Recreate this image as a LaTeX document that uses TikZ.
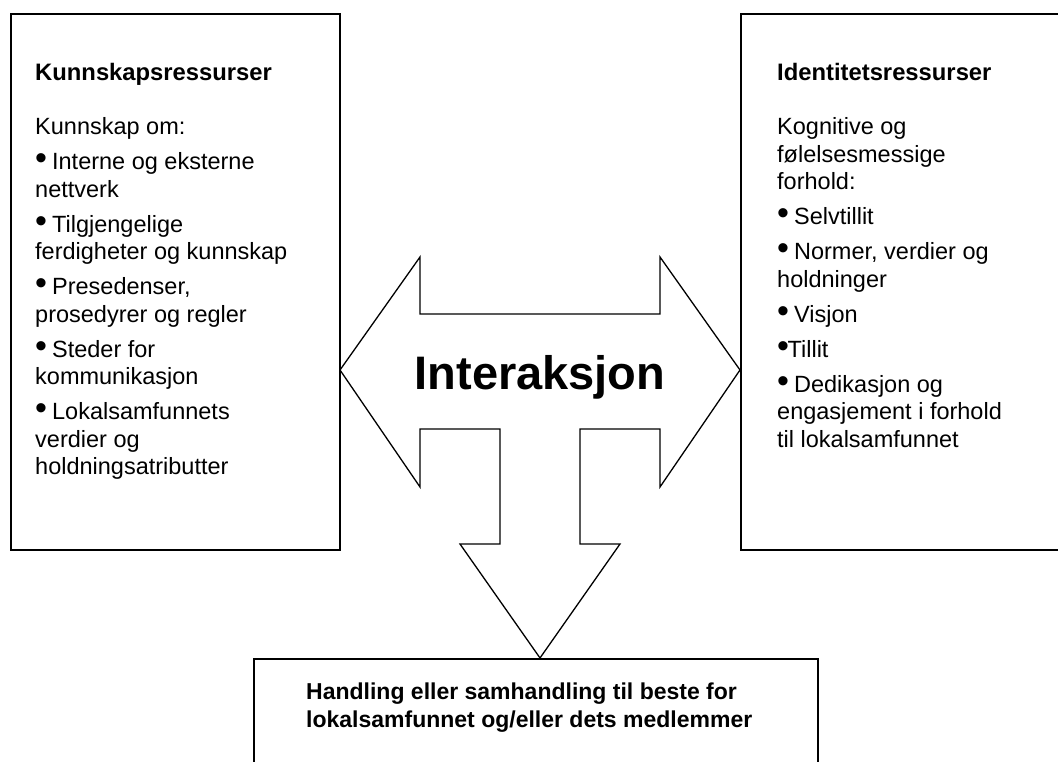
\documentclass[tikz,border=0pt]{standalone}
\usepackage{fontspec}
\setmainfont{Liberation Sans}
\newcommand{\blt}{{\fontsize{34}{34}\selectfont\textbullet}\kern-1.5pt}
\newcommand{\ttl}[1]{{\fontsize{23.8}{27.5}\selectfont\bfseries #1}}

\begin{document}
\begin{tikzpicture}[x=1pt,y=-1pt,
  box/.style={draw,line width=1.8pt,inner sep=0pt,anchor=north west},
  boxtext/.style={anchor=north west,align=left,inner sep=0pt,font=\fontsize{23.5}{27.5}\selectfont},
  hd/.style={font=\fontsize{23}{27.5}\selectfont\bfseries}]
  \clip (0,0) rectangle (1058,762);
  \node[box,minimum width=329,minimum height=536] (kunn) at (10,13) {};
  \node[box,minimum width=340,minimum height=536] (ident) at (740,13) {};
  \node[box,minimum width=564,minimum height=150] (handl) at (253,658) {};
  \node[boxtext] (kunntxt) at (35,63) {\ttl{Kunnskapsressurser}\\[27pt]
    Kunnskap om:\\[7.5pt]
    \blt{} Interne og eksterne\\ nettverk\\[7.5pt]
    \blt{} Tilgjengelige\\ ferdigheter og kunnskap\\[7.5pt]
    \blt{} Presedenser,\\ prosedyrer og regler\\[7.5pt]
    \blt{} Steder for\\ kommunikasjon\\[7.5pt]
    \blt{} Lokalsamfunnets\\ verdier og\\ holdningsatributter};
  \node[boxtext] (identtxt) at (777,63) {\ttl{Identitetsressurser}\\[27pt]
    Kognitive og\\ følelsesmessige\\ forhold:\\[7.5pt]
    \blt{} Selvtillit\\[7.5pt]
    \blt{} Normer, verdier og\\ holdninger\\[7.5pt]
    \blt{} Visjon\\[7.5pt]
    \blt{}Tillit\\[7.5pt]
    \blt{} Dedikasjon og\\ engasjement i forhold\\ til lokalsamfunnet};
  \node[hd,align=left,anchor=north west,inner sep=0pt] (handltxt) at (306,683) {Handling eller samhandling til beste for\\ lokalsamfunnet og/eller dets medlemmer};
  \draw[line width=1.3pt,line join=miter] (340,370) -- (420,257) -- (420,314) -- (660,314) -- (660,257) -- (740,370)
    -- (660,487) -- (660,429) -- (580,429) -- (580,544) -- (620,544) -- (540,658) -- (460,544) -- (500,544)
    -- (500,429) -- (420,429) -- (420,487) -- cycle;
  \node[font=\fontsize{47}{50}\selectfont\bfseries,anchor=base] (inter) at (540,389) {Interaksjon};
\end{tikzpicture}
\end{document}
